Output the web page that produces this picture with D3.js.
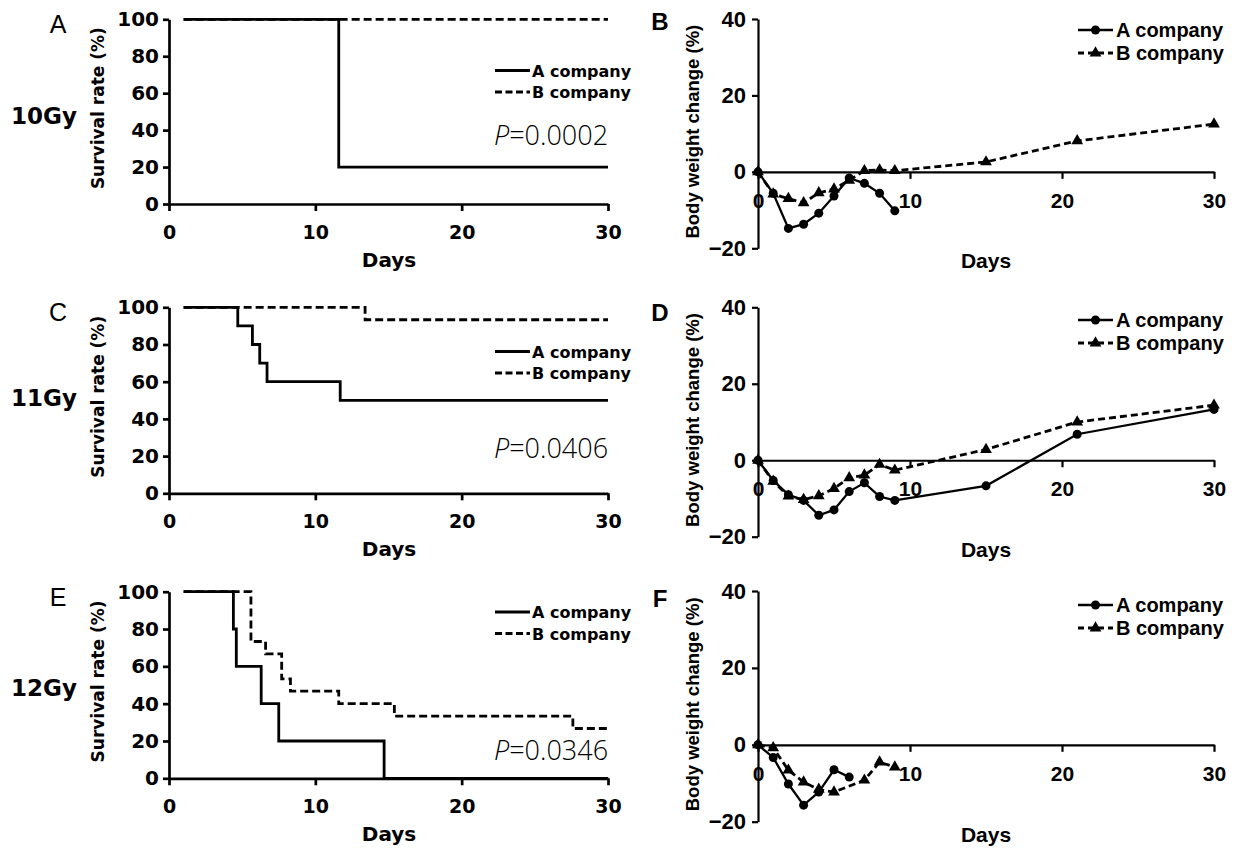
<!DOCTYPE html>
<html>
<head>
<meta charset="utf-8">
<script src="https://cdn.jsdelivr.net/npm/d3@7"></script>
<style>
  body { margin: 0; background: #fff; }
  svg { display: block; }
</style>
</head>
<body>
<svg id="fig" width="1237" height="849"></svg>
<script>
const dayTicks = [0, 10, 20, 30];
const survivalTicks = [0, 20, 40, 60, 80, 100];
const weightTicks = [-20, 0, 20, 40];
const companies = ["A company", "B company"];
const doses = ["10Gy", "11Gy", "12Gy"];
const pValues = ["0.0002", "0.0406", "0.0346"];
const survivalLetters = ["A", "C", "E"];
const weightLetters = ["B", "D", "F"];

// survival (Kaplan-Meier steps): day of each change, rate after it
const surv10DaysA = [1, 11.6, 30];
const surv10RateA = [100, 20, 20];
const surv10DaysB = [1, 30];
const surv10RateB = [100, 100];

const surv11DaysA = [1, 4.7, 5.7, 6.2, 6.7, 11.7, 30];
const surv11RateA = [100, 90, 80, 70, 60, 50, 50];
const surv11DaysB = [1, 13.4, 30];
const surv11RateB = [100, 93.3, 93.3];

const surv12DaysA = [1, 4.4, 4.6, 6.3, 7.5, 14.7, 30];
const surv12RateA = [100, 80, 60, 40, 20, 0, 0];
const surv12DaysB = [1, 5.6, 6.6, 7.7, 8.3, 11.6, 15.4, 27.6, 30];
const surv12RateB = [100, 73.3, 66.7, 53.3, 46.7, 40, 33.3, 26.7, 26.7];

// body weight change (%)
const wt10DaysA = [0, 1, 2, 3, 4, 5, 6, 7, 8, 9];
const wt10A = [0, -5.6, -14.8, -13.7, -10.8, -6.3, -1.6, -3.0, -5.6, -10.2];
const wt10DaysB = [0, 1, 2, 3, 4, 5, 6, 7, 8, 9, 15, 21, 30];
const wt10B = [0, -5.8, -7.0, -8.1, -5.5, -4.5, -2.2, 0.3, 0.5, 0.3, 2.6, 8.1, 12.5];

const wt11DaysA = [0, 1, 2, 3, 4, 5, 6, 7, 8, 9, 15, 21, 30];
const wt11A = [0, -5.3, -9.0, -10.5, -14.4, -13.0, -8.2, -5.9, -9.5, -10.5, -6.7, 6.8, 13.3];
const wt11DaysB = [0, 1, 2, 3, 4, 5, 6, 7, 8, 9, 15, 21, 30];
const wt11B = [0, -5.5, -9.4, -10.3, -9.3, -7.4, -4.6, -3.9, -1.1, -2.6, 2.8, 10.0, 14.4];

const wt12DaysA = [0, 1, 2, 3, 4, 5, 6];
const wt12A = [0, -3.3, -10.2, -15.7, -12.3, -6.5, -8.4];
const wt12DaysB = [0, 1, 2, 3, 4, 5, 7, 8, 9];
const wt12B = [0, -0.8, -6.6, -9.7, -11.6, -12.3, -9.2, -4.5, -5.8];

const svg = d3.select("#fig");
const leftFont = "'DejaVu Sans', sans-serif";
const rightFont = "'Liberation Sans', Arial, sans-serif";

const survivalPanels = [
    { top: 19.3, bottom: 204, a: [surv10DaysA, surv10RateA], b: [surv10DaysB, surv10RateB], gyY: 124, legY: 70.5, pY: 145 },
    { top: 307.3, bottom: 493.3, a: [surv11DaysA, surv11RateA], b: [surv11DaysB, surv11RateB], gyY: 406, legY: 351.5, pY: 458 },
    { top: 591.7, bottom: 778.3, a: [surv12DaysA, surv12RateA], b: [surv12DaysB, surv12RateB], gyY: 696, legY: 612, pY: 760 }
];

const weightPanels = [
    { top: 19, bottom: 248.3, a: [wt10DaysA, wt10A], b: [wt10DaysB, wt10B], legY: 30, letterY: 30 },
    { top: 307.3, bottom: 536.7, a: [wt11DaysA, wt11A], b: [wt11DaysB, wt11B], legY: 320, letterY: 321 },
    { top: 591, bottom: 821.7, a: [wt12DaysA, wt12A], b: [wt12DaysB, wt12B], legY: 605, letterY: 607 }
];

survivalPanels.forEach((p, i) => drawSurvival(p, i));
weightPanels.forEach((p, i) => drawWeight(p, i));

function styleAxis(g, font, size, width) {
    g.attr("font-family", font).attr("font-size", size).attr("font-weight", "bold");
    g.selectAll("path.domain").attr("stroke", "#000").attr("stroke-width", width);
    g.selectAll(".tick line").attr("stroke", "#000").attr("stroke-width", width);
    g.selectAll(".tick text").attr("fill", "#000");
}

function drawSurvival(p, i) {
    const x = d3.scaleLinear().domain([0, 30]).range([169, 608]);
    const y = d3.scaleLinear().domain([0, 100]).range([p.bottom, p.top]);
    const g = svg.append("g");

    const xAxis = g.append("g")
        .attr("transform", `translate(0, ${p.bottom})`)
        .call(d3.axisBottom(x).tickValues(dayTicks).tickSize(7).tickSizeOuter(0));
    styleAxis(xAxis, leftFont, 19, 2.7);
    xAxis.selectAll(".tick text").attr("y", 35).attr("dy", null);

    const yAxis = g.append("g")
        .attr("transform", "translate(169, 0)")
        .call(d3.axisLeft(y).tickValues(survivalTicks).tickSize(6).tickSizeOuter(0));
    styleAxis(yAxis, leftFont, 20, 2.7);
    yAxis.selectAll(".tick text").attr("x", -10);

    const step = d3.line()
        .x((d) => x(d[0]))
        .y((d) => y(d[1]))
        .curve(d3.curveStepAfter);

    g.append("path")
        .datum(d3.zip(p.b[0], p.b[1]))
        .attr("fill", "none")
        .attr("stroke", "#000")
        .attr("stroke-width", 2.8)
        .attr("stroke-dasharray", "8,4")
        .attr("d", step);

    g.append("path")
        .datum(d3.zip(p.a[0], p.a[1]))
        .attr("fill", "none")
        .attr("stroke", "#000")
        .attr("stroke-width", 2.8)
        .attr("d", step);

    // legend
    companies.forEach((name, k) => {
        const ly = p.legY + k * 21.5;
        g.append("line")
            .attr("x1", 495).attr("x2", 530)
            .attr("y1", ly).attr("y2", ly)
            .attr("stroke", "#000").attr("stroke-width", 2.8)
            .attr("stroke-dasharray", k ? "7,3.5" : null);
        g.append("text")
            .attr("x", 532).attr("y", ly + 6)
            .attr("font-family", leftFont).attr("font-weight", "bold").attr("font-size", 16)
            .text(name);
    });

    const pText = g.append("text")
        .attr("x", 494).attr("y", p.pY)
        .attr("font-family", "'Open Sans', 'Noto Sans', sans-serif")
        .attr("font-weight", 300)
        .attr("font-size", 27);
    pText.append("tspan").attr("font-style", "italic").text("P");
    pText.append("tspan").text("=" + pValues[i]);

    g.append("text")
        .attr("x", 389).attr("y", p.bottom + 63)
        .attr("text-anchor", "middle")
        .attr("font-family", leftFont).attr("font-weight", "bold").attr("font-size", 20)
        .text("Days");

    g.append("text")
        .attr("transform", `translate(104, ${(p.top + p.bottom) / 2 - 3.5}) rotate(-90)`)
        .attr("text-anchor", "middle")
        .attr("font-family", leftFont).attr("font-weight", "bold").attr("font-size", 17)
        .text("Survival rate (%)");

    g.append("text")
        .attr("x", 58).attr("y", p.top + 14)
        .attr("text-anchor", "middle")
        .attr("font-family", rightFont).attr("font-size", 25)
        .text(survivalLetters[i]);

    g.append("text")
        .attr("x", 11).attr("y", p.gyY)
        .attr("font-family", leftFont).attr("font-weight", "bold").attr("font-size", 23)
        .text(doses[i]);
}

function drawWeight(p, i) {
    const x = d3.scaleLinear().domain([0, 30]).range([758, 1214]);
    const y = d3.scaleLinear().domain([-20, 40]).range([p.bottom, p.top]);
    const g = svg.append("g");

    const xAxis = g.append("g")
        .attr("transform", `translate(0, ${y(0)})`)
        .call(d3.axisBottom(x).tickValues(dayTicks).tickSize(7).tickSizeOuter(0));
    styleAxis(xAxis, rightFont, 21, 2.2);
    xAxis.selectAll(".tick text").attr("y", 36).attr("dy", null);

    const yAxis = g.append("g")
        .attr("transform", "translate(758, 0)")
        .call(d3.axisLeft(y).tickValues(weightTicks).tickSize(6).tickSizeOuter(0));
    styleAxis(yAxis, rightFont, 22, 2.2);
    yAxis.selectAll(".tick text").attr("x", -12);

    const line = d3.line().x((d) => x(d[0])).y((d) => y(d[1]));
    const triangle = d3.symbol(d3.symbolTriangle).size(60);

    const ptsA = d3.zip(p.a[0], p.a[1]);
    const ptsB = d3.zip(p.b[0], p.b[1]);

    g.append("path")
        .datum(ptsA)
        .attr("fill", "none").attr("stroke", "#000").attr("stroke-width", 2.3)
        .attr("d", line);
    g.append("path")
        .datum(ptsB)
        .attr("fill", "none").attr("stroke", "#000").attr("stroke-width", 2.8)
        .attr("stroke-dasharray", "7,4")
        .attr("d", line);

    g.append("g").selectAll("circle")
        .data(ptsA)
        .join("circle")
        .attr("cx", (d) => x(d[0])).attr("cy", (d) => y(d[1]))
        .attr("r", 4.5).attr("fill", "#000");
    g.append("g").selectAll("path")
        .data(ptsB)
        .join("path")
        .attr("transform", (d) => `translate(${x(d[0])}, ${y(d[1])})`)
        .attr("d", triangle).attr("fill", "#000");

    // legend
    companies.forEach((name, k) => {
        const ly = p.legY + k * 23;
        g.append("line")
            .attr("x1", 1078).attr("x2", 1113)
            .attr("y1", ly).attr("y2", ly)
            .attr("stroke", "#000").attr("stroke-width", k ? 2.8 : 2.3)
            .attr("stroke-dasharray", k ? "6,4" : null);
        if (k) {
            g.append("path").attr("transform", `translate(1095.5, ${ly})`).attr("d", triangle).attr("fill", "#000");
        } else {
            g.append("circle").attr("cx", 1095.5).attr("cy", ly).attr("r", 4.5).attr("fill", "#000");
        }
        g.append("text")
            .attr("x", 1116).attr("y", ly + 7)
            .attr("font-family", rightFont).attr("font-weight", "bold").attr("font-size", 20)
            .text(name);
    });

    g.append("text")
        .attr("x", 986).attr("y", p.bottom + 20)
        .attr("text-anchor", "middle")
        .attr("font-family", rightFont).attr("font-weight", "bold").attr("font-size", 21)
        .text("Days");

    g.append("text")
        .attr("transform", `translate(699, ${(p.top + p.bottom) / 2 - 2}) rotate(-90)`)
        .attr("text-anchor", "middle")
        .attr("font-family", rightFont).attr("font-weight", "bold").attr("font-size", 18.5)
        .text("Body weight change (%)");

    g.append("text")
        .attr("x", 660).attr("y", p.letterY)
        .attr("text-anchor", "middle")
        .attr("font-family", rightFont).attr("font-weight", "bold").attr("font-size", 24)
        .text(weightLetters[i]);
}
</script>
</body>
</html>
